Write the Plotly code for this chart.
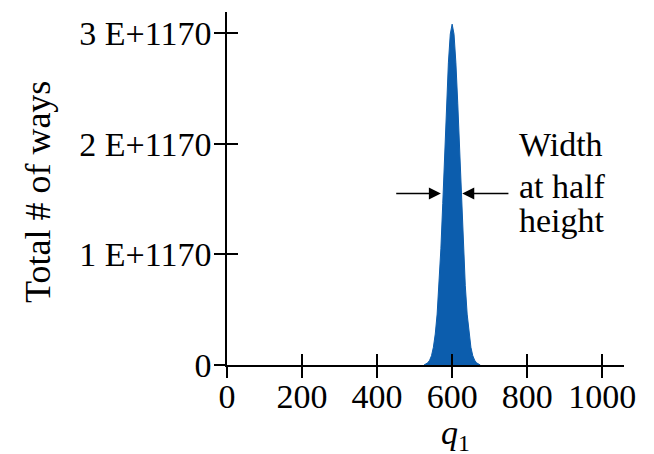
import plotly.graph_objects as go

# q1 values and total number of ways (in units of 1E+1170)
q1 = [525, 530, 535, 540, 545, 550, 555, 560, 565, 570, 575, 580, 585, 590, 595,
      600, 605, 610, 615, 620, 625, 630, 635, 640, 645, 650, 655, 660, 665, 670, 675]
ways = [0.0, 0.009, 0.02, 0.043, 0.084, 0.16, 0.28, 0.46, 0.72, 1.05, 1.46, 1.91, 2.36, 2.73, 2.99,
        3.08, 2.99, 2.73, 2.36, 1.91, 1.46, 1.05, 0.72, 0.46, 0.28, 0.16, 0.084, 0.043, 0.02, 0.009, 0.0]

x_ticks = [0, 200, 400, 600, 800, 1000]
y_ticks = [0, 1, 2, 3]
y_ticktext = ["0", "1 E+1170", "2 E+1170", "3 E+1170"]

FONT = "Liberation Serif"
BLUE = "#0c5dad"

fig = go.Figure()
fig.add_trace(go.Scatter(x=q1, y=ways, mode="lines", fill="tozeroy",
                         line=dict(color=BLUE, width=1), fillcolor=BLUE,
                         hoverinfo="skip", showlegend=False))
# dummy trace for overlay axes (inside tick halves)
fig.add_trace(go.Scatter(x=[None], y=[None], xaxis="x2", yaxis="y2", showlegend=False))

xr = [0, 1058]
yr = [0, 3.19]
fig.update_layout(
    width=654, height=454,
    margin=dict(l=227, r=30, t=12, b=89),
    paper_bgcolor="white", plot_bgcolor="white",
    font=dict(family=FONT, color="black", size=34),
    xaxis=dict(range=xr, tickvals=x_ticks, ticks="outside", ticklen=11, tickwidth=1.5,
               tickcolor="black", showline=True, linecolor="black", linewidth=1.5,
               showgrid=False, zeroline=False, tickfont=dict(size=34),
               ticklabelstandoff=-11, automargin=False),
    yaxis=dict(range=yr, tickvals=y_ticks, ticktext=y_ticktext, ticks="outside", ticklen=11,
               tickwidth=1.5, tickcolor="black", showline=True, linecolor="black", linewidth=1.5,
               showgrid=False, zeroline=False, tickfont=dict(size=34),
               ticklabelstandoff=-4, automargin=False),
    xaxis2=dict(range=xr, tickvals=x_ticks, ticks="inside", ticklen=11, tickwidth=1.5,
                tickcolor="black", showticklabels=False, showgrid=False, zeroline=False,
                overlaying="x", anchor="y2", automargin=False),
    yaxis2=dict(range=yr, tickvals=y_ticks, ticks="inside", ticklen=11, tickwidth=1.5,
                tickcolor="black", showticklabels=False, showgrid=False, zeroline=False,
                overlaying="y", anchor="x2", automargin=False),
    showlegend=False,
)

# axis titles
fig.add_annotation(x=-0.476, y=0.49, xref="paper", yref="paper", text="Total # of ways",
                   textangle=-90, showarrow=False, xanchor="center", yanchor="middle",
                   font=dict(size=36, family=FONT))
fig.add_annotation(x=608, y=-0.198, xref="x", yref="paper", text="<i>q</i><sub>1</sub>",
                   showarrow=False, xanchor="center", yanchor="middle",
                   font=dict(size=34, family=FONT))

half = 1.55
fig.add_annotation(x=570, y=half, ax=447, ay=half, xref="x", yref="y", axref="x", ayref="y",
                   text="", showarrow=True, arrowhead=2, arrowsize=1.6, arrowwidth=1.5,
                   arrowcolor="black")
fig.add_annotation(x=627, y=half, ax=754, ay=half, xref="x", yref="y", axref="x", ayref="y",
                   text="", showarrow=True, arrowhead=2, arrowsize=1.6, arrowwidth=1.5,
                   arrowcolor="black")
for txt, yy in [("Width", 1.99), ("at half", 1.61), ("height", 1.31)]:
    fig.add_annotation(x=772, y=yy, xref="x", yref="y", text=txt, showarrow=False,
                       xanchor="left", yanchor="middle", font=dict(size=34, family=FONT))

fig.write_html("out.html", config={"displayModeBar": False},
               post_script="document.body.style.margin='0';document.body.style.padding='0';")
